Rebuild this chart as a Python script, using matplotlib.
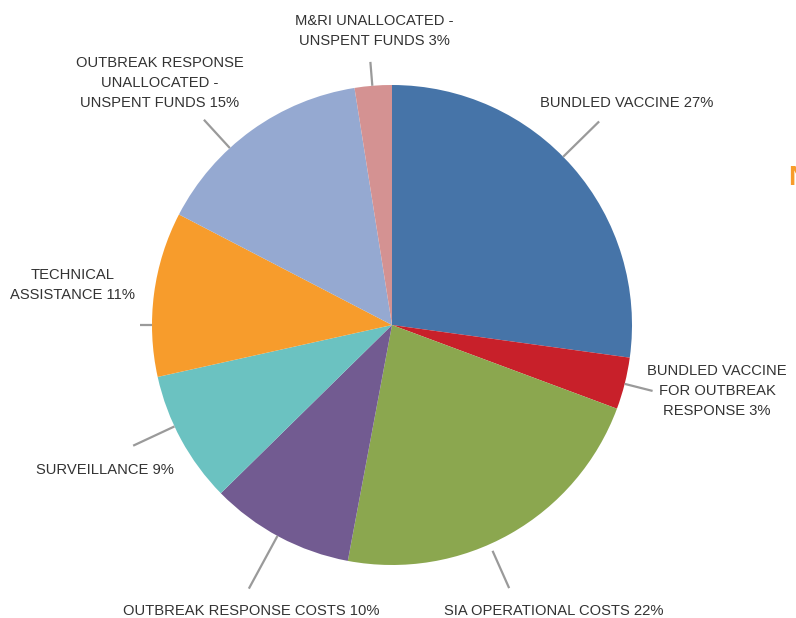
import matplotlib.pyplot as plt
import numpy as np

plt.rcParams['font.family'] = ['Liberation Sans', 'DejaVu Sans']

labels = ['BUNDLED VACCINE 27%',
          'BUNDLED VACCINE\nFOR OUTBREAK\nRESPONSE 3%',
          'SIA OPERATIONAL COSTS 22%',
          'OUTBREAK RESPONSE COSTS 10%',
          'SURVEILLANCE 9%',
          'TECHNICAL\nASSISTANCE 11%',
          'OUTBREAK RESPONSE\nUNALLOCATED -\nUNSPENT FUNDS 15%',
          'M&RI UNALLOCATED -\nUNSPENT FUNDS 3%']
values = [27.2, 3.5, 22.3, 9.7, 8.9, 11.1, 14.9, 2.5]
colors = ['#4674a8', '#c8202a', '#8ba74f', '#725b91',
          '#6bc2c1', '#f79c2c', '#95a9d1', '#d49292']

# leader lines: angle (deg), inner r, outer r
leaders = [(44.5, 1.0, 1.21), (-14.2, 1.0, 1.12), (-66.0, 1.03, 1.2),
           (-118.5, 1.0, 1.25), (-155.0, 1.0, 1.19), (180.0, 1.0, 1.05),
           (132.5, 1.0, 1.16), (94.7, 1.0, 1.1)]
# label anchor positions (data units, radius = 1)
text_pos = [(0.617, 0.925, 'left'), (1.354, -0.275, 'center'),
            (0.675, -1.19, 'center'), (-0.588, -1.19, 'center'),
            (-1.196, -0.604, 'center'), (-1.071, 0.165, 'right'),
            (-0.967, 1.01, 'center'), (-0.075, 1.225, 'center')]

fig = plt.figure(figsize=(7.96, 6.18), dpi=100)
ax = fig.add_axes([0, 0, 1, 1])

ax.pie(values, colors=colors, startangle=90, counterclock=False,
       radius=1, wedgeprops=dict(linewidth=0))

for (a, r0, r1) in leaders:
    t = np.radians(a)
    ax.plot([r0*np.cos(t), r1*np.cos(t)], [r0*np.sin(t), r1*np.sin(t)],
            color='#9a9a9a', lw=1.6, solid_capstyle='butt')

for lab, (x, y, ha) in zip(labels, text_pos):
    ax.text(x, y, lab, ha=ha, va='center', multialignment='center',
            fontsize=10.6, color='#333333', linespacing=1.55)

# title fragment clipped by the right edge, as in the original
fig.text(788/796, 1 - 178/618, 'N', color='#f79c2c', fontsize=20,
         fontweight='bold', ha='left', va='center')

ax.set_aspect('auto')
ax.set_xlim(-392/240, (796-392)/240)
ax.set_ylim((325-618)/240, 325/240)
ax.axis('off')

fig.savefig('out.png', dpi=100)
